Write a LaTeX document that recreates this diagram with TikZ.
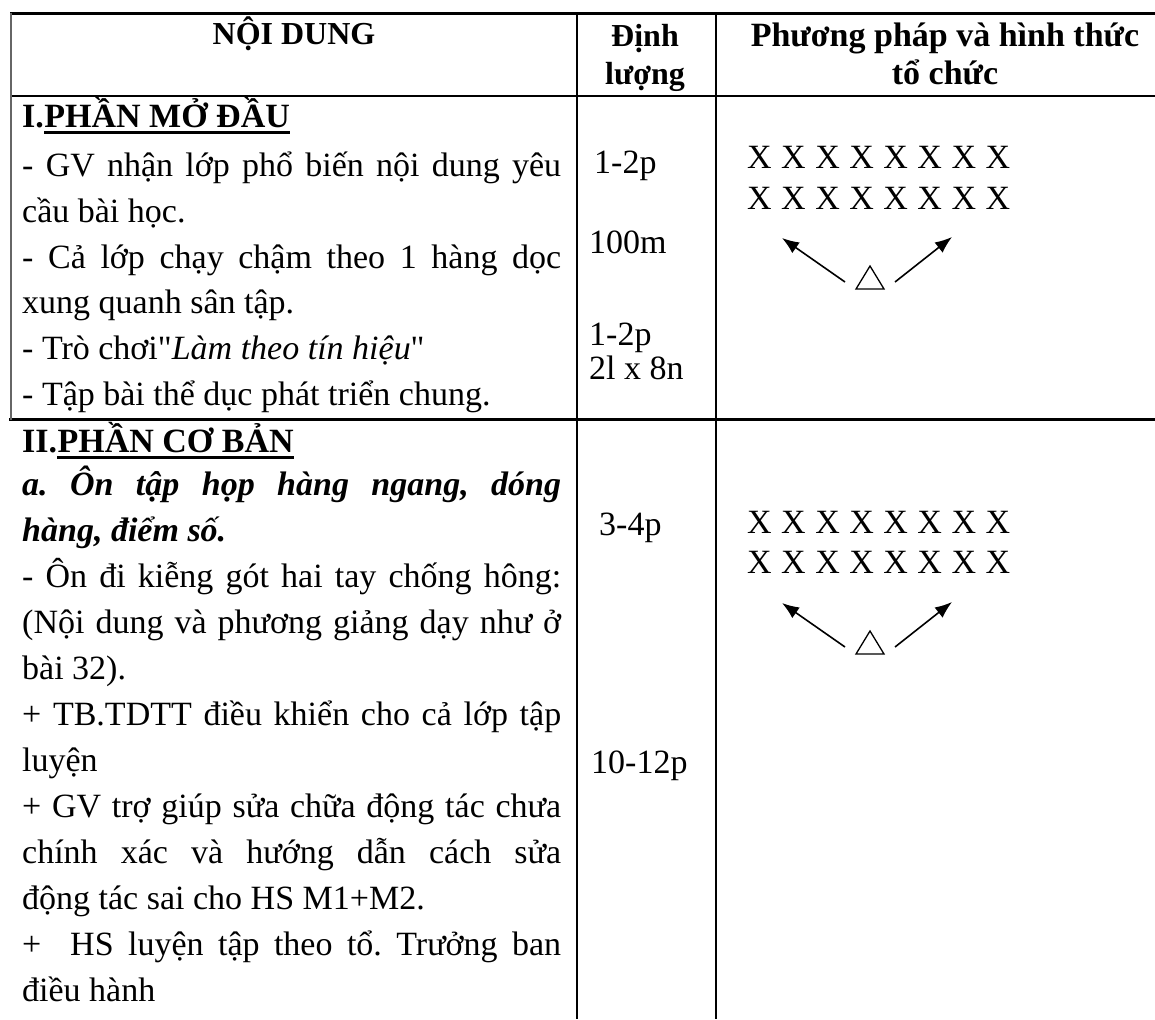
\documentclass[tikz,border=0pt]{standalone}
\usepackage{fontspec}
\setmainfont{Liberation Serif}[Ligatures=TeXOff]
\usetikzlibrary{arrows.meta}
\newcommand{\jl}[1]{\makebox[539pt][s]{#1}}
\newcommand{\xrow}{\makebox[263pt][s]{X X X X X X X X}}
\frenchspacing
\begin{document}
\begin{tikzpicture}[x=1pt,y=-1pt,
  body/.style={anchor=base west, inner sep=0pt, font=\fontsize{34}{40}\selectfont},
  bodyb/.style={body, font=\fontsize{34}{40}\selectfont\bfseries},
  head/.style={anchor=base, inner sep=0pt, font=\fontsize{32}{38}\selectfont\bfseries},
  hline/.style={line width=2.6pt},
  vline/.style={line width=1.8pt},
  arr/.style={-{Latex[length=17pt,width=13pt]}, line width=1.6pt},
  tri/.style={line width=1.3pt, line join=miter}]
\useasboundingbox (0,0) rectangle (1155,1019);
% grid lines
\draw[hline] (10,13.5) -- (1155,13.5);
\draw[line width=2.2pt] (10,96) -- (1155,96);
\draw[hline] (9,419.5) -- (1155,419.5);
\draw[line width=1.2pt, black!60] (11,13.5) -- (11,419.5);
\draw[vline] (577,13.5) -- (577,1019);
\draw[vline] (716,13.5) -- (716,1019);
% header
\node[head] (h1) at (294,45) {NỘI DUNG};
\node[head] (h2a) at (645,47) {Định};
\node[head] (h2b) at (645,85) {lượng};
\node[head, font=\fontsize{34}{40}\selectfont\bfseries] (h3a) at (945,47) {Phương pháp và hình thức};
\node[head, font=\fontsize{34}{40}\selectfont\bfseries] (h3b) at (945,85) {tổ chức};
% section I
\node[bodyb] (s1a) at (22,128) {I.};
\node[bodyb] (s1b) at (s1a.base east) {PHẦN MỞ ĐẦU};
\draw[line width=3pt] ([yshift=-5pt]s1b.base west) -- ([yshift=-5pt]s1b.base east);
\node[body] (l1) at (22,176) {\jl{- GV nhận lớp phổ biến nội dung yêu}};
\node[body] (l2) at (22,222) {cầu bài học.};
\node[body] (l3) at (22,268) {\jl{- Cả lớp chạy chậm theo 1 hàng dọc}};
\node[body] (l4) at (22,313) {xung quanh sân tập.};
\node[body] (l5) at (22,359) {- Trò chơi"\textit{Làm theo tín hiệu}"};
\node[body] (l6) at (22,405) {- Tập bài thể dục phát triển chung.};
\node[body] (q1) at (594,174) {1-2p};
\node[body] (q2) at (589,253) {100m};
\node[body] (q3) at (589,345) {1-2p};
\node[body] (q4) at (589,379) {2l x 8n};
\node[body] (x1) at (747,168) {\xrow};
\node[body] (x2) at (747,209) {\xrow};
\draw[tri] (856,289) -- (884,289) -- (870,266) -- cycle;
\coordinate (a1s) at (845,282); \coordinate (a1e) at (782,238);
\coordinate (a2s) at (895,282); \coordinate (a2e) at (952,237);
\draw[arr] (a1s) -- (a1e);
\draw[arr] (a2s) -- (a2e);
% section II
\node[bodyb] (s2a) at (22,452) {II.};
\node[bodyb] (s2b) at (s2a.base east) {PHẦN CƠ BẢN};
\draw[line width=3pt] ([yshift=-5pt]s2b.base west) -- ([yshift=-5pt]s2b.base east);
\node[body, font=\fontsize{34}{40}\selectfont\bfseries\itshape] (m1) at (22,495) {\jl{a. Ôn tập họp hàng ngang, dóng}};
\node[body, font=\fontsize{34}{40}\selectfont\bfseries\itshape] (m2) at (22,541) {hàng, điểm số.};
\node[body] (m3) at (22,587) {\jl{- Ôn đi kiễng gót hai tay chống hông:}};
\node[body] (m4) at (22,633) {\jl{(Nội dung và phương giảng dạy như ở}};
\node[body] (m5) at (22,679) {bài 32).};
\node[body] (m6) at (22,725) {\jl{+ TB.TDTT điều khiển cho cả lớp tập}};
\node[body] (m7) at (22,771) {luyện};
\node[body] (m8) at (22,817) {\jl{+ GV trợ giúp sửa chữa động tác chưa}};
\node[body] (m9) at (22,863) {\jl{chính xác và hướng dẫn cách sửa}};
\node[body] (m10) at (22,909) {động tác sai cho HS M1+M2.};
\node[body] (m11) at (22,955) {\jl{+\ \ HS luyện tập theo tổ. Trưởng ban}};
\node[body] (m12) at (22,1001) {điều hành};
\node[body] (q5) at (599,535) {3-4p};
\node[body] (q6) at (591,773) {10-12p};
\node[body] (x3) at (747,533) {\xrow};
\node[body] (x4) at (747,573) {\xrow};
\draw[tri] (856,654) -- (884,654) -- (870,631) -- cycle;
\coordinate (b1s) at (845,647); \coordinate (b1e) at (782,603);
\coordinate (b2s) at (895,647); \coordinate (b2e) at (952,602);
\draw[arr] (b1s) -- (b1e);
\draw[arr] (b2s) -- (b2e);
\end{tikzpicture}
\end{document}
